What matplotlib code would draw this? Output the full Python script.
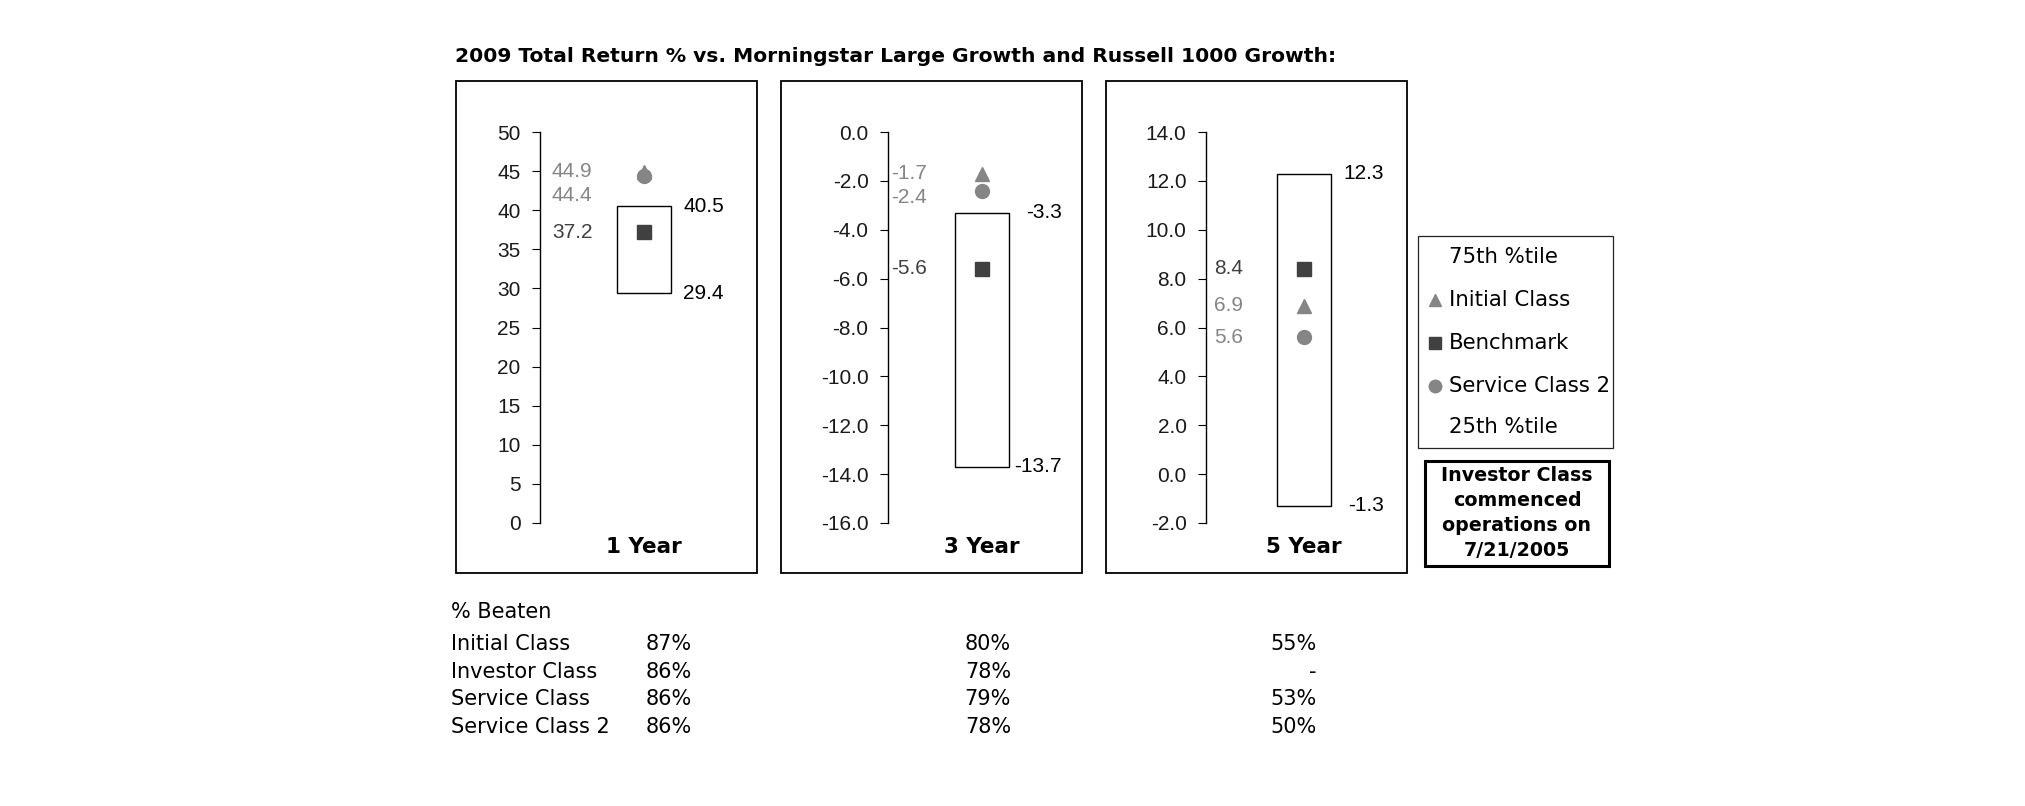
import matplotlib
matplotlib.use("Agg")
from matplotlib import pyplot
from matplotlib.patches import Rectangle

pyplot.rcParams['axes.unicode_minus'] = False

# Data

periods = ["1 Year", "3 Year", "5 Year"]
initialClass = [44.9, -1.7, 6.9]
benchmark = [37.2, -5.6, 8.4]
serviceClass2 = [44.4, -2.4, 5.6]
percentile75 = [40.5, -3.3, 12.3]
percentile25 = [29.4, -13.7, -1.3]

yLimits = [(0, 50), (-16, 0), (-2, 14)]
ySteps = [5, 2, 2]
tickFormats = ["{:.0f}", "{:.1f}", "{:.1f}"]

beatenClasses = ["Initial Class", "Investor Class", "Service Class", "Service Class 2"]
beaten1Year = ["87%", "86%", "86%", "86%"]
beaten3Year = ["80%", "78%", "79%", "78%"]
beaten5Year = ["55%", "-", "53%", "50%"]

legendLabels = ["75th %tile", "Initial Class", "Benchmark", "Service Class 2", "25th %tile"]

titleText = "2009 Total Return % vs. Morningstar Large Growth and Russell 1000 Growth:"
noteText = "Investor Class\ncommenced\noperations on\n7/21/2005"

# Layout (pixels)

W, H = 2025, 806
plotTop, plotBottom = 132, 523
boxTop, boxBottom = 81, 573
boxLefts = [456, 781, 1106]
boxWidth = 301
spineXs = [540, 888, 1206]
barLefts = [617, 955, 1277]
barWidth = 54
labelOffsets = [12, 3, 8]

lightGray = "#858585"
darkGray = "#404040"
textColor = "#1a1a1a"
tickFont = "Liberation Sans"
mainFont = "DejaVu Sans"

fig = pyplot.figure(figsize = (W / 100, H / 100), dpi = 100)

# Overlay axes in pixel coordinates

over = fig.add_axes([0, 0, 1, 1], zorder = 0)
over.set_xlim(0, W)
over.set_ylim(H, 0)
over.axis("off")

over.text(455, 57, titleText, fontsize = 14.6, fontweight = "bold", family = mainFont, ha = "left", va = "center", color = "black")

for i in range(3):

    over.add_patch(Rectangle((boxLefts[i], boxTop), boxWidth, boxBottom - boxTop, fill = False, edgecolor = "black", linewidth = 1.3))

    boxRight = boxLefts[i] + boxWidth - 8
    ax = fig.add_axes([spineXs[i] / W, 1 - plotBottom / H, (boxRight - spineXs[i]) / W, (plotBottom - plotTop) / H], zorder = 2)
    ax.patch.set_visible(False)
    ax.set_xlim(spineXs[i], boxRight)
    yMin, yMax = yLimits[i]
    ax.set_ylim(yMin, yMax)

    for side in ["top", "right", "bottom"]:
        ax.spines[side].set_visible(False)
    ax.spines["left"].set_linewidth(1.0)
    ax.set_xticks([])

    ticks = []
    t = yMin
    while t <= yMax + 1e-9:
        ticks.append(t)
        t += ySteps[i]
    ax.set_yticks(ticks)
    ax.set_yticklabels([tickFormats[i].format(v) for v in ticks], family = tickFont, fontsize = 15, color = textColor)
    ax.tick_params(axis = "y", direction = "out", length = 6, width = 0.8, pad = 8)

    # Percentile box

    ax.add_patch(Rectangle((barLefts[i], percentile25[i]), barWidth, percentile75[i] - percentile25[i], facecolor = "white", edgecolor = "black", linewidth = 1.0, zorder = 2))

    markerX = barLefts[i] + barWidth / 2
    ax.plot([markerX], [initialClass[i]], marker = "^", markersize = 10, color = lightGray, linestyle = "none", zorder = 3)
    ax.plot([markerX], [serviceClass2[i]], marker = "o", markersize = 10, color = lightGray, linestyle = "none", zorder = 3)
    ax.plot([markerX], [benchmark[i]], marker = "s", markersize = 10, color = darkGray, linestyle = "none", zorder = 4)

    # Right labels

    labelRight = barLefts[i] + barWidth + 53
    ax.text(labelRight, percentile75[i], "{:.1f}".format(percentile75[i]), family = tickFont, fontsize = 15, ha = "right", va = "center", color = "black")
    ax.text(labelRight, percentile25[i], "{:.1f}".format(percentile25[i]), family = tickFont, fontsize = 15, ha = "right", va = "center", color = "black")

    # Left labels, pushed apart when they collide

    unitsPerPixel = (yMax - yMin) / (plotBottom - plotTop)
    minGap = 24 * unitsPerPixel
    leftLabels = [(initialClass[i], lightGray), (serviceClass2[i], lightGray), (benchmark[i], darkGray)]
    leftLabels.sort(key = lambda item: -item[0])
    previousY = None
    for value, color in leftLabels:
        yText = value
        if previousY is not None and previousY - yText < minGap:
            yText = previousY - minGap
        ax.text(spineXs[i] + labelOffsets[i], yText, "{:.1f}".format(value), family = tickFont, fontsize = 15, ha = "left", va = "center", color = color)
        previousY = yText

    over.text(markerX, 547, periods[i], fontsize = 15.5, fontweight = "bold", family = mainFont, ha = "center", va = "center", color = "black")

# Legend

over.add_patch(Rectangle((1418, 236), 195, 212, fill = False, edgecolor = "#222222", linewidth = 0.9))
legendYs = [257, 300, 343, 386, 427]
legendMarkers = [None, ("^", lightGray), ("s", darkGray), ("o", lightGray), None]
for label, y, markerInfo in zip(legendLabels, legendYs, legendMarkers):
    over.text(1449, y, label, fontsize = 15.3, family = mainFont, ha = "left", va = "center", color = "black")
    if markerInfo is not None:
        over.plot([1435], [y], marker = markerInfo[0], markersize = 9, color = markerInfo[1], linestyle = "none")

# Note box

over.add_patch(Rectangle((1425, 461), 184, 105, fill = False, edgecolor = "black", linewidth = 2.2))
over.text(1517, 513, noteText, fontsize = 13.7, fontweight = "bold", family = mainFont, ha = "center", va = "center", color = "black", linespacing = 1.4)

# % Beaten table

over.text(451, 612, "% Beaten", fontsize = 15, family = mainFont, ha = "left", va = "center", color = "black")
rowYs = [644, 672, 699, 727]
for j in range(len(beatenClasses)):
    over.text(451, rowYs[j], beatenClasses[j], fontsize = 15, family = mainFont, ha = "left", va = "center", color = "black")
    over.text(692, rowYs[j], beaten1Year[j], fontsize = 15, family = mainFont, ha = "right", va = "center", color = "black")
    over.text(1011, rowYs[j], beaten3Year[j], fontsize = 15, family = mainFont, ha = "right", va = "center", color = "black")
    over.text(1317, rowYs[j], beaten5Year[j], fontsize = 15, family = mainFont, ha = "right", va = "center", color = "black")

fig.savefig("out.png", dpi = 100, facecolor = "white")
pyplot.close(fig)
